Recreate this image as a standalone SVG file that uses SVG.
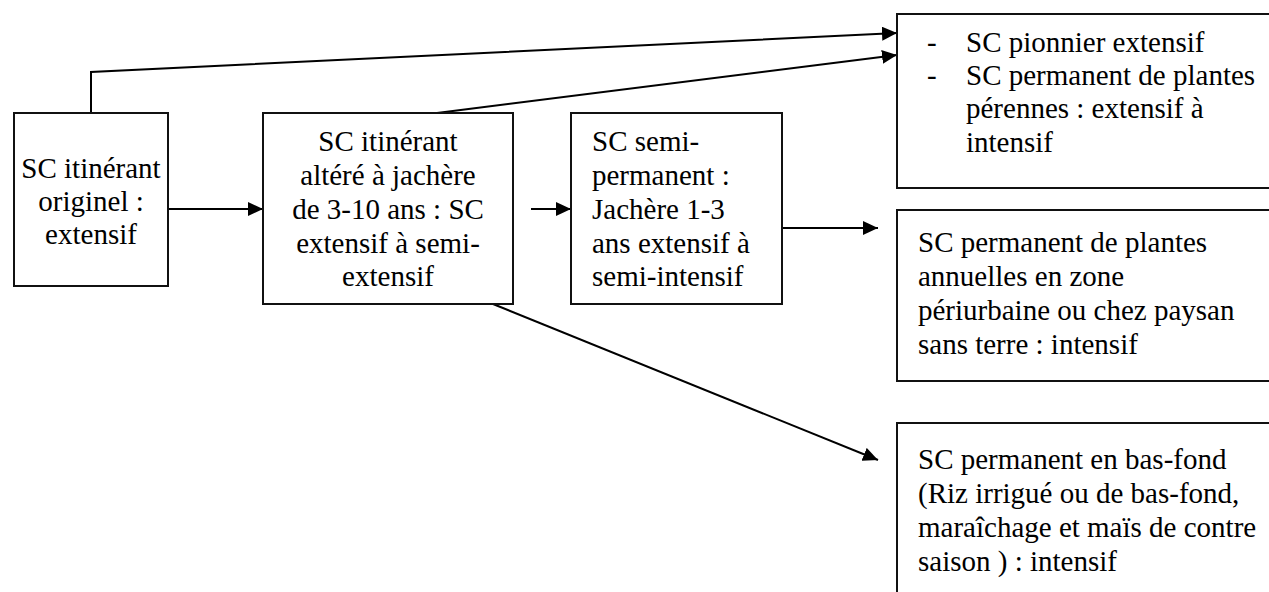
<svg xmlns="http://www.w3.org/2000/svg" width="1269" height="592" viewBox="0 0 1269 592">
<style>
.box{fill:#fff;stroke:#111;stroke-width:2}
.t{font-size:29px;fill:#000}
.c{text-anchor:middle}
.ln{fill:none;stroke:#000;stroke-width:2}
</style>
<defs>
<marker id="ah" markerUnits="userSpaceOnUse" markerWidth="16" markerHeight="14" refX="15" refY="7" orient="auto">
<path d="M0,0 L15,7 L0,14 z" fill="#000"/>
</marker>
</defs>
<rect width="1269" height="592" fill="#fff"/>
<g id="connectors">
<line class="ln" x1="168" y1="209" x2="263" y2="209" marker-end="url(#ah)"/>
<polyline class="ln" points="91,113 91,72 897,33" marker-end="url(#ah)"/>
<line class="ln" x1="437" y1="113" x2="897" y2="55" marker-end="url(#ah)"/>
<line class="ln" x1="531" y1="209" x2="571" y2="209" marker-end="url(#ah)"/>
<line class="ln" x1="782" y1="228" x2="878" y2="228" marker-end="url(#ah)"/>
<line class="ln" x1="493" y1="304" x2="878" y2="460" marker-end="url(#ah)"/>
</g>
<g font-family="Liberation Serif, Tinos, Times New Roman, DejaVu Serif, serif">
<g id="n1">
<rect class="box" x="14" y="113" width="154" height="173"/>
<text class="t c" x="91" y="178">SC itinérant</text>
<text class="t c" x="91" y="211">originel :</text>
<text class="t c" x="91" y="244">extensif</text>
</g>
<g id="n2">
<rect class="box" x="263" y="113" width="250" height="191"/>
<text class="t c" x="388" y="151">SC itinérant</text>
<text class="t c" x="388" y="185">altéré à jachère</text>
<text class="t c" x="388" y="219">de 3-10 ans : SC</text>
<text class="t c" x="388" y="253">extensif à semi-</text>
<text class="t c" x="388" y="286">extensif</text>
</g>
<g id="n3">
<rect class="box" x="571" y="113" width="211" height="191"/>
<text class="t" x="592" y="151">SC semi-</text>
<text class="t" x="592" y="185">permanent :</text>
<text class="t" x="592" y="219">Jachère 1-3</text>
<text class="t" x="592" y="253">ans extensif à</text>
<text class="t" x="592" y="286">semi-intensif</text>
</g>
<g id="n4">
<rect class="box" x="897" y="14" width="380" height="174"/>
<text class="t" x="927" y="52">-</text>
<text class="t" x="966" y="52">SC pionnier extensif</text>
<text class="t" x="927" y="85">-</text>
<text class="t" x="966" y="85">SC permanent de plantes</text>
<text class="t" x="966" y="118">pérennes : extensif à</text>
<text class="t" x="966" y="152">intensif</text>
</g>
<g id="n5">
<rect class="box" x="897" y="210" width="380" height="171"/>
<text class="t" x="918" y="252">SC permanent de plantes</text>
<text class="t" x="918" y="286">annuelles en zone</text>
<text class="t" x="918" y="320">périurbaine ou chez paysan</text>
<text class="t" x="918" y="354">sans terre : intensif</text>
</g>
<g id="n6">
<rect class="box" x="897" y="423" width="380" height="180"/>
<text class="t" x="918" y="469">SC permanent en bas-fond</text>
<text class="t" x="918" y="503">(Riz irrigué ou de bas-fond,</text>
<text class="t" x="918" y="537">maraîchage et maïs de contre</text>
<text class="t" x="918" y="571">saison ) : intensif</text>
</g>
</g>
</svg>
